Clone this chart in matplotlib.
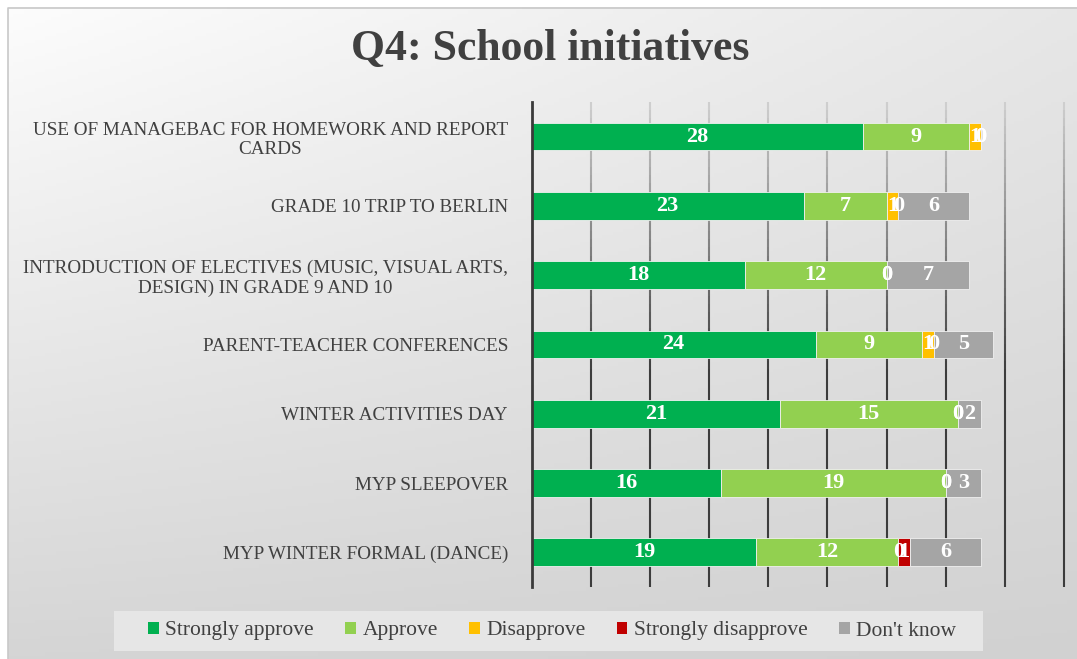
import numpy as np
import matplotlib
matplotlib.use("Agg")
import matplotlib.pyplot as plt
from matplotlib.patches import Patch, Rectangle
from matplotlib.collections import LineCollection
from matplotlib.colors import to_rgb

categories = [
    "USE OF MANAGEBAC FOR HOMEWORK AND REPORT\nCARDS",
    "GRADE 10 TRIP TO BERLIN",
    "INTRODUCTION OF ELECTIVES (MUSIC, VISUAL ARTS,\nDESIGN) IN GRADE 9 AND 10",
    "PARENT-TEACHER CONFERENCES",
    "WINTER ACTIVITIES DAY",
    "MYP SLEEPOVER",
    "MYP WINTER FORMAL (DANCE)",
]
series_names = ["Strongly approve", "Approve", "Disapprove", "Strongly disapprove", "Don't know"]
strongly_approve = [28, 23, 18, 24, 21, 16, 19]
approve = [9, 7, 12, 9, 15, 19, 12]
disapprove = [1, 1, 0, 1, 0, 0, 0]
strongly_disapprove = [0, 0, 0, 0, 0, 0, 1]
dont_know = [0, 6, 7, 5, 2, 3, 6]
colors = ["#00b050", "#92d050", "#ffc000", "#c00000", "#a5a5a5"]

SERIF = ["Liberation Serif", "DejaVu Serif"]
TXT = "#404040"

W, H = 1077, 659
fig = plt.figure(figsize=(W / 100, H / 100), dpi=100)
fig.patch.set_facecolor("white")

# background gradient panel
bg = fig.add_axes([0, 0, 1, 1], zorder=-10)
bg.set_axis_off()
bx = np.linspace(0, 1, 200)[None, :]
by = np.linspace(0, 1, 200)[:, None]  # 0 top, 1 bottom
tl, tr, bl, br = 0.99, 0.905, 0.835, 0.82
val = (1 - by) * ((1 - bx) * tl + bx * tr) + by * ((1 - bx) * bl + bx * br)
img = np.dstack([val, val, val])
bg.imshow(img, extent=[7.5 / W, 1, 0, 1 - 7.5 / H], aspect="auto", origin="upper",
          transform=bg.transAxes)
bg.set_xlim(0, 1)
bg.set_ylim(0, 1)
bg.plot([7.5 / W, 7.5 / W, 1], [0, 1 - 7.5 / H, 1 - 7.5 / H], color="#c8c8c8", lw=1.2,
        transform=bg.transAxes)

ax = fig.add_axes([531.5 / W, 72 / H, (1064 - 531.5) / W, 485 / H])
ax.set_facecolor("none")
n = len(categories)
y = np.arange(n)
data = [strongly_approve, approve, disapprove, strongly_disapprove, dont_know]
left = np.zeros(n)
for name, vals, c in zip(series_names, data, colors):
    vals = np.array(vals, dtype=float)
    ax.barh(y, vals, left=left, height=0.4, color=c, edgecolor="#f0f0f0",
            linewidth=0.6, label=name, zorder=3)
    for yi, l, v in zip(y, left, vals):
        ax.text(l + v / 2, yi, f"{int(v)}", ha="center", va="center", color="white",
                fontsize=16, fontweight="bold", family=SERIF, zorder=4)
    left += vals

ax.set_xlim(0, 45)
ax.set_ylim(n - 0.5, -0.5)
ax.set_xticks([])
ax.set_yticks(y)
ax.set_yticklabels(categories, family=SERIF, fontsize=13.8, color=TXT, multialignment="center")
ax.tick_params(axis="y", length=0, pad=17)
for s in ["top", "right", "bottom"]:
    ax.spines[s].set_visible(False)
ax.spines["left"].set_color("#3a3a3a")
ax.spines["left"].set_linewidth(2)
ax.spines["left"].set_zorder(5)

# gridlines with vertical shading
segs, cols = [], []
nseg = 60
ys = np.linspace(-0.5, n - 0.5, nseg + 1)
c_top, c_bot = np.array(to_rgb("#d0d0d0")), np.array(to_rgb("#3c3c3c"))
for gx in range(5, 46, 5):
    for i in range(nseg):
        t = min(1.0, (i + 0.5) / nseg * 1.8)
        segs.append([(gx, ys[i]), (gx, ys[i + 1])])
        cols.append(c_top * (1 - t) + c_bot * t)
ax.add_collection(LineCollection(segs, colors=cols, linewidths=1.5, zorder=1, clip_on=False))

fig.text(0.511, 1 - 49 / H, "Q4: School initiatives", ha="center", va="center",
         fontsize=31.5, fontweight="bold", family=SERIF, color=TXT)

# legend box
fig.patches.append(Rectangle((114 / W, 1 - 651 / H), (983 - 114) / W, 40 / H,
                             transform=fig.transFigure, facecolor="#e6e6e6",
                             edgecolor="none", zorder=0))
handles = [Patch(facecolor=c, edgecolor="none") for c in colors]
leg = fig.legend(handles, series_names, loc="center", bbox_to_anchor=(552 / W, 1 - 631 / H),
                 ncol=5, frameon=False, prop={"family": SERIF, "size": 15.5},
                 handlelength=0.5, handleheight=0.5, handletextpad=0.3, columnspacing=1.45,
                 labelcolor=TXT)

fig.savefig("out.png", dpi=100)
